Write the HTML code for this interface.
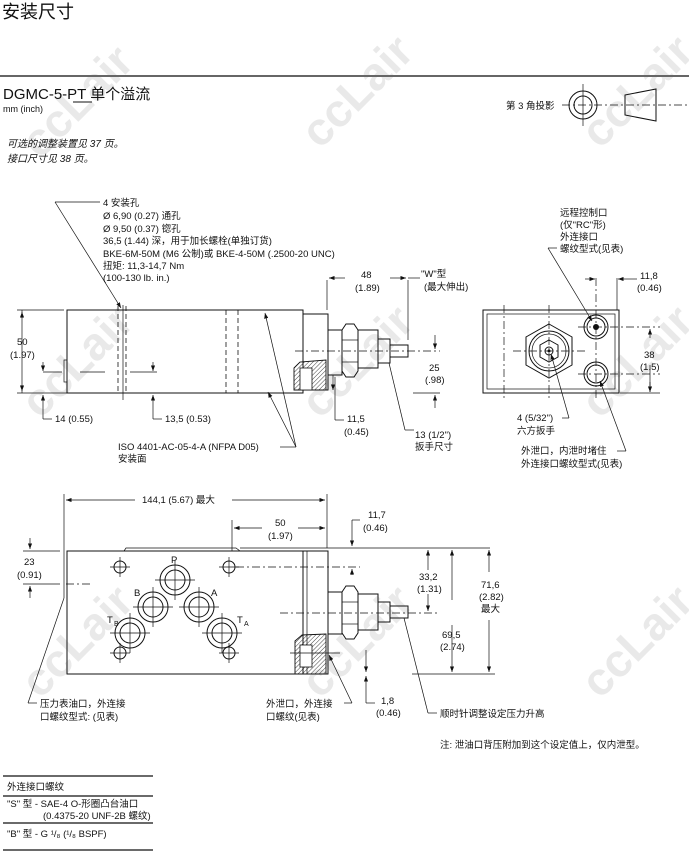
<!DOCTYPE html>
<html><head><meta charset="utf-8"><style>
body{margin:0;background:#fff;width:689px;height:851px;overflow:hidden}
svg{display:block}
text{font-family:"Liberation Sans","Noto Sans CJK SC",sans-serif;fill:#111;font-size:9.5px}
.t{fill:none;stroke:#111;stroke-width:1}
.th{fill:none;stroke:#111;stroke-width:0.7}
.d{fill:none;stroke:#111;stroke-width:0.7;stroke-dasharray:8 3 2 3}
.dash{fill:none;stroke:#111;stroke-width:0.8;stroke-dasharray:5 3}
.w{font-size:46px;font-weight:bold;fill:#e9e9e9;font-family:"Liberation Sans",sans-serif}
</style></head><body>
<svg width="689" height="851" viewBox="0 0 689 851" xmlns="http://www.w3.org/2000/svg">
<defs>
<marker id="a" markerWidth="8" markerHeight="6" refX="8" refY="3" orient="auto"><path d="M0,0 L8,3 L0,6z" fill="#111"/></marker>
<pattern id="h" width="3" height="3" patternUnits="userSpaceOnUse" patternTransform="rotate(45)"><line x1="0" y1="0" x2="0" y2="3" stroke="#111" stroke-width="0.8"/></pattern>
</defs>
<!-- watermarks -->
<g>
<text class="w" transform="translate(40,160) rotate(-45)">ccLair</text>
<text class="w" transform="translate(320,150) rotate(-45)">ccLair</text>
<text class="w" transform="translate(600,150) rotate(-45)">ccLair</text>
<text class="w" transform="translate(40,420) rotate(-45)">ccLair</text>
<text class="w" transform="translate(320,420) rotate(-45)">ccLair</text>
<text class="w" transform="translate(600,420) rotate(-45)">ccLair</text>
<text class="w" transform="translate(40,700) rotate(-45)">ccLair</text>
<text class="w" transform="translate(320,700) rotate(-45)">ccLair</text>
<text class="w" transform="translate(600,700) rotate(-45)">ccLair</text>
</g>
<!-- header -->
<text x="2" y="18" style="font-size:18px">安装尺寸</text>
<line x1="0" y1="76" x2="689" y2="76" stroke="#666" stroke-width="2"/>
<text x="3" y="99" style="font-size:15px">DGMC-5-PT  单个溢流</text>
<line x1="73" y1="102" x2="92" y2="102" stroke="#111" stroke-width="1"/>
<text x="3" y="112" style="font-size:9px">mm (inch)</text>
<text x="7" y="147" style="font-style:italic;font-size:10px">可选的调整装置见 37 页。</text>
<text x="7" y="162" style="font-style:italic;font-size:10px">接口尺寸见 38 页。</text>
<!-- projection symbol -->
<text x="506" y="109" style="font-size:9.5px">第 3 角投影</text>
<circle cx="583" cy="105" r="14" class="t"/><circle cx="583" cy="105" r="9" class="t"/>
<line x1="562" y1="105" x2="690" y2="105" class="d"/><line x1="583" y1="84" x2="583" y2="126" class="th"/>
<path d="M625,95 L656,89 L656,121 L625,115z" class="t"/>

<!-- TOP VIEW -->
<rect x="67" y="310" width="236" height="83" class="t"/>
<rect x="303" y="314" width="25" height="76" class="t"/>
<rect x="328" y="330" width="14" height="45" class="t"/>
<path d="M342,330 L346,324 L354,324 L358,330 L358,371 L354,377 L346,377 L342,371z" class="t"/>
<line x1="342" y1="340" x2="358" y2="340" class="th"/><line x1="342" y1="362" x2="358" y2="362" class="th"/>
<rect x="358" y="330" width="20" height="38" class="t"/>
<rect x="378" y="339" width="12" height="24" class="t"/>
<rect x="390" y="345" width="18" height="12" class="t"/>
<path d="M294,368 L300,362 L326,360 L326,390 L294,390z" fill="url(#h)" stroke="#111" stroke-width="0.9"/>
<rect x="300" y="368" width="12" height="22" fill="#fff" stroke="#111" stroke-width="0.8"/>
<line x1="295" y1="351" x2="440" y2="351" class="d"/>
<line x1="118" y1="306" x2="118" y2="392" class="dash"/><line x1="126" y1="306" x2="126" y2="392" class="dash"/>
<line x1="226" y1="310" x2="226" y2="393" class="dash"/><line x1="238" y1="310" x2="238" y2="393" class="dash"/>
<line x1="123" y1="305" x2="123" y2="400" class="th"/>
<rect x="64" y="360" width="3" height="22" class="th"/>
<!-- dims top -->
<line x1="17" y1="310" x2="64" y2="310" class="th"/><line x1="17" y1="393" x2="290" y2="393" class="th"/>
<line x1="22" y1="318" x2="22" y2="312" class="th" marker-end="url(#a)"/><line x1="22" y1="385" x2="22" y2="391" class="th" marker-end="url(#a)"/>
<line x1="22" y1="310" x2="22" y2="393" class="th"/>
<text x="17" y="345">50</text><text x="10" y="358">(1.97)</text>
<line x1="43" y1="372" x2="62" y2="372" class="th"/><line x1="80" y1="372" x2="105" y2="372" class="th"/>
<line x1="43" y1="362" x2="43" y2="371" class="th" marker-end="url(#a)"/><line x1="43" y1="405" x2="43" y2="395" class="th" marker-end="url(#a)"/>
<line x1="43" y1="405" x2="43" y2="419" class="th"/><line x1="43" y1="419" x2="52" y2="419" class="th"/>
<text x="55" y="422">14 (0.55)</text>
<line x1="130" y1="372" x2="157" y2="372" class="th"/>
<line x1="153" y1="362" x2="153" y2="371" class="th" marker-end="url(#a)"/><line x1="153" y1="405" x2="153" y2="395" class="th" marker-end="url(#a)"/>
<line x1="153" y1="405" x2="153" y2="419" class="th"/><line x1="153" y1="419" x2="162" y2="419" class="th"/>
<text x="165" y="422">13,5 (0.53)</text>
<line x1="327" y1="280" x2="327" y2="310" class="th"/><line x1="408" y1="280" x2="408" y2="340" class="th"/>
<line x1="345" y1="278" x2="329" y2="278" class="th" marker-end="url(#a)"/><line x1="390" y1="278" x2="406" y2="278" class="th" marker-end="url(#a)"/>
<line x1="408" y1="278" x2="420" y2="278" class="th"/>
<text x="361" y="278">48</text><text x="355" y="291">(1.89)</text>
<text x="421" y="277">"W"型</text><text x="424" y="290">(最大伸出)</text>
<line x1="413" y1="393" x2="440" y2="393" class="th"/>
<line x1="435" y1="335" x2="435" y2="349" class="th" marker-end="url(#a)"/><line x1="435" y1="408" x2="435" y2="395" class="th" marker-end="url(#a)"/>
<text x="429" y="371">25</text><text x="425" y="383">(.98)</text>
<line x1="333" y1="375" x2="333" y2="390" class="th" marker-end="url(#a)"/>
<line x1="335" y1="420" x2="335" y2="377" class="th"/><line x1="335" y1="420" x2="344" y2="420" class="th"/>
<text x="347" y="422">11,5</text><text x="344" y="435">(0.45)</text>
<line x1="389" y1="363" x2="405" y2="430" class="th"/><line x1="405" y1="430" x2="414" y2="430" class="th"/>
<text x="415" y="438">13 (1/2")</text><text x="415" y="450">扳手尺寸</text>
<!-- leader for holes -->
<line x1="55" y1="202" x2="100" y2="202" class="th"/><line x1="55" y1="202" x2="121" y2="308" class="th" marker-end="url(#a)"/>
<text x="103" y="206">4 安装孔</text>
<text x="103" y="219">Ø 6,90 (0.27) 通孔</text>
<text x="103" y="232">Ø 9,50 (0.37) 锪孔</text>
<text x="103" y="244">36,5 (1.44) 深，用于加长螺栓(单独订货)</text>
<text x="103" y="257">BKE-6M-50M (M6 公制)或 BKE-4-50M (.2500-20 UNC)</text>
<text x="103" y="269">扭矩: 11,3-14,7 Nm</text>
<text x="103" y="281">(100-130 lb. in.)</text>
<line x1="296" y1="447" x2="265" y2="313" class="th" marker-end="url(#a)"/><line x1="296" y1="447" x2="268" y2="392" class="th" marker-end="url(#a)"/>
<line x1="280" y1="447" x2="296" y2="447" class="th"/>
<text x="118" y="450">ISO 4401-AC-05-4-A (NFPA D05)</text>
<text x="118" y="462">安装面</text>

<!-- RIGHT VIEW -->
<rect x="483" y="310" width="136" height="83" class="t"/>
<rect x="487" y="314" width="128" height="75" class="th"/>
<line x1="504" y1="305" x2="504" y2="398" class="d"/>
<line x1="549" y1="305" x2="549" y2="398" class="d"/><line x1="513" y1="351" x2="588" y2="351" class="d"/>
<polygon points="549,324 572,337 572,365 549,378 526,365 526,337" class="t"/>
<circle cx="549" cy="351" r="20" class="t"/><circle cx="549" cy="351" r="17" class="th"/>
<polygon points="549,340 558,345 558,357 549,362 540,357 540,345" class="t"/>
<circle cx="549" cy="351" r="4" class="t"/><circle cx="549" cy="351" r="1.5" fill="#111"/>
<circle cx="596" cy="327" r="12" class="t"/><circle cx="596" cy="327" r="9" class="t"/><circle cx="596" cy="327" r="3" fill="#111"/>
<circle cx="596" cy="374" r="12" class="t"/><circle cx="596" cy="374" r="9" class="t"/>
<line x1="596" y1="278" x2="596" y2="398" class="d"/><line x1="578" y1="327" x2="660" y2="327" class="d"/><line x1="578" y1="374" x2="660" y2="374" class="d"/>
<line x1="617" y1="278" x2="617" y2="310" class="th"/>
<line x1="585" y1="279" x2="595" y2="279" class="th" marker-end="url(#a)"/><line x1="628" y1="279" x2="618" y2="279" class="th" marker-end="url(#a)"/>
<line x1="628" y1="279" x2="637" y2="279" class="th"/>
<text x="640" y="279">11,8</text><text x="637" y="291">(0.46)</text>
<line x1="650" y1="338" x2="650" y2="329" class="th" marker-end="url(#a)"/><line x1="650" y1="365" x2="650" y2="392" class="th"/><line x1="650" y1="382" x2="650" y2="392" class="th" marker-end="url(#a)"/>
<line x1="620" y1="393" x2="660" y2="393" class="th"/>
<text x="644" y="358">38</text><text x="640" y="370">(1.5)</text>
<text x="560" y="216">远程控制口</text><text x="560" y="228">(仅"RC"形)</text><text x="560" y="240">外连接口</text><text x="560" y="252">螺纹型式(见表)</text>
<line x1="548" y1="248" x2="557" y2="248" class="th"/><line x1="548" y1="248" x2="592" y2="321" class="th" marker-end="url(#a)"/>
<line x1="569" y1="418" x2="551" y2="354" class="th" marker-end="url(#a)"/><line x1="562" y1="418" x2="569" y2="418" class="th"/>
<text x="517" y="421">4  (5/32")</text><text x="517" y="434">六方扳手</text>
<line x1="626" y1="451" x2="600" y2="381" class="th" marker-end="url(#a)"/><line x1="617" y1="451" x2="626" y2="451" class="th"/>
<text x="521" y="454">外泄口，内泄时堵住</text><text x="521" y="467">外连接口螺纹型式(见表)</text>

<!-- BOTTOM VIEW -->
<rect x="67" y="551" width="236" height="123" class="t"/>
<path d="M124,551 L126,548 L236,548 L240,551" class="th"/>
<rect x="303" y="551" width="25" height="123" class="t"/>
<line x1="307" y1="551" x2="307" y2="674" class="th"/>
<rect x="328" y="592" width="14" height="42" class="t"/>
<path d="M342,592 L346,586 L354,586 L358,592 L358,633 L354,639 L346,639 L342,633z" class="t"/>
<line x1="342" y1="602" x2="358" y2="602" class="th"/><line x1="342" y1="624" x2="358" y2="624" class="th"/>
<rect x="358" y="594" width="20" height="36" class="t"/>
<rect x="378" y="602" width="12" height="20" class="t"/>
<rect x="390" y="606" width="18" height="12" class="t"/>
<path d="M295,641 L302,635 L326,634 L326,674 L295,674z" fill="url(#h)" stroke="#111" stroke-width="0.9"/>
<rect x="300" y="645" width="12" height="22" fill="#fff" stroke="#111" stroke-width="0.8"/>
<line x1="290" y1="653" x2="340" y2="653" class="th"/>
<line x1="280" y1="613" x2="440" y2="613" class="d"/>
<line x1="66" y1="584" x2="90" y2="584" class="d"/>
<line x1="64" y1="576" x2="64" y2="598" class="th"/>
<g class="t">
<circle cx="120" cy="567" r="6"/><circle cx="229" cy="567" r="6"/><circle cx="120" cy="653" r="6"/><circle cx="229" cy="653" r="6"/>
<circle cx="175" cy="580" r="15"/><circle cx="175" cy="580" r="10"/>
<circle cx="153" cy="607" r="15"/><circle cx="153" cy="607" r="10"/>
<circle cx="199" cy="607" r="15"/><circle cx="199" cy="607" r="10"/>
<circle cx="130" cy="633" r="15"/><circle cx="130" cy="633" r="10"/>
<circle cx="222" cy="633" r="15"/><circle cx="222" cy="633" r="10"/>
</g>
<g class="th">
<path d="M110,567h20M120,557v20M219,567h20M229,557v20M110,653h20M120,643v20M219,653h20M229,643v20"/>
<path d="M155,580h40M175,560v40M133,607h40M153,587v40M179,607h40M199,587v40M110,633h40M130,613v40M202,633h40M222,613v40"/>
</g>
<text x="171" y="563">P</text><text x="134" y="596">B</text><text x="211" y="596">A</text>
<text x="107" y="623">T</text><text x="114" y="626" style="font-size:7px">B</text>
<text x="237" y="623">T</text><text x="244" y="626" style="font-size:7px">A</text>
<!-- bottom dims -->
<line x1="64" y1="494" x2="64" y2="576" class="th"/><line x1="327" y1="494" x2="327" y2="548" class="th"/>
<line x1="135" y1="500" x2="66" y2="500" class="th" marker-end="url(#a)"/><line x1="232" y1="500" x2="325" y2="500" class="th" marker-end="url(#a)"/>
<text x="142" y="503">144,1 (5.67) 最大</text>
<line x1="232" y1="520" x2="232" y2="551" class="th"/>
<line x1="262" y1="528" x2="234" y2="528" class="th" marker-end="url(#a)"/><line x1="298" y1="528" x2="325" y2="528" class="th" marker-end="url(#a)"/>
<text x="275" y="526">50</text><text x="268" y="539">(1.97)</text>
<line x1="240" y1="548" x2="490" y2="548" class="th"/>
<line x1="236" y1="567" x2="360" y2="567" class="d"/>
<line x1="352" y1="520" x2="360" y2="520" class="th"/><line x1="352" y1="520" x2="352" y2="546" class="th" marker-end="url(#a)"/>
<line x1="352" y1="575" x2="352" y2="569" class="th" marker-end="url(#a)"/>
<text x="368" y="518">11,7</text><text x="363" y="531">(0.46)</text>
<line x1="23" y1="551" x2="60" y2="551" class="th"/>
<line x1="30" y1="538" x2="30" y2="549" class="th" marker-end="url(#a)"/><line x1="30" y1="598" x2="30" y2="586" class="th" marker-end="url(#a)"/>
<line x1="23" y1="584" x2="60" y2="584" class="th"/>
<text x="24" y="565">23</text><text x="17" y="578">(0.91)</text>
<line x1="428" y1="556" x2="428" y2="550" class="th" marker-end="url(#a)"/><line x1="428" y1="603" x2="428" y2="611" class="th" marker-end="url(#a)"/>
<line x1="428" y1="556" x2="428" y2="570" class="th"/><line x1="428" y1="594" x2="428" y2="603" class="th"/>
<text x="419" y="580">33,2</text><text x="417" y="592">(1.31)</text>
<line x1="412" y1="674" x2="495" y2="674" class="th"/>
<line x1="452" y1="600" x2="452" y2="550" class="th" marker-end="url(#a)"/><line x1="452" y1="625" x2="452" y2="672" class="th" marker-end="url(#a)"/>
<text x="442" y="638">69,5</text><text x="440" y="650">(2.74)</text>
<line x1="489" y1="572" x2="489" y2="550" class="th" marker-end="url(#a)"/><line x1="489" y1="620" x2="489" y2="672" class="th" marker-end="url(#a)"/>
<text x="481" y="588">71,6</text><text x="479" y="600">(2.82)</text><text x="481" y="612">最大</text>
<line x1="366" y1="650" x2="366" y2="672" class="th" marker-end="url(#a)"/>
<line x1="366" y1="690" x2="366" y2="676" class="th" marker-end="url(#a)"/>
<line x1="366" y1="690" x2="366" y2="703" class="th"/><line x1="366" y1="703" x2="375" y2="703" class="th"/>
<text x="381" y="704">1,8</text><text x="376" y="716">(0.46)</text>
<line x1="64" y1="598" x2="28" y2="703" class="th"/><line x1="28" y1="703" x2="37" y2="703" class="th"/>
<text x="40" y="707">压力表油口，外连接</text><text x="40" y="720">口螺纹型式: (见表)</text>
<line x1="352" y1="703" x2="329" y2="655" class="th" marker-end="url(#a)"/><line x1="344" y1="703" x2="352" y2="703" class="th"/>
<text x="266" y="707">外泄口，外连接</text><text x="266" y="720">口螺纹(见表)</text>
<line x1="404" y1="618" x2="428" y2="713" class="th"/><line x1="428" y1="713" x2="437" y2="713" class="th"/>
<text x="440" y="717">顺时针调整设定压力升高</text>
<text x="440" y="748">注: 泄油口背压附加到这个设定值上，仅内泄型。</text>
<!-- table -->
<line x1="3" y1="776" x2="153" y2="776" stroke="#111" stroke-width="1.3"/>
<text x="7" y="790">外连接口螺纹</text>
<line x1="3" y1="796" x2="153" y2="796" stroke="#111" stroke-width="1.3"/>
<text x="7" y="807">"S" 型 - SAE-4 O-形圈凸台油口</text>
<text x="43" y="819">(0.4375-20 UNF-2B 螺纹)</text>
<line x1="3" y1="823" x2="153" y2="823" stroke="#111" stroke-width="1.3"/>
<text x="7" y="837">"B" 型 - G ¹/₈ (¹/₈ BSPF)</text>
<line x1="3" y1="850" x2="153" y2="850" stroke="#111" stroke-width="1.3"/>
</svg>
</body></html>
